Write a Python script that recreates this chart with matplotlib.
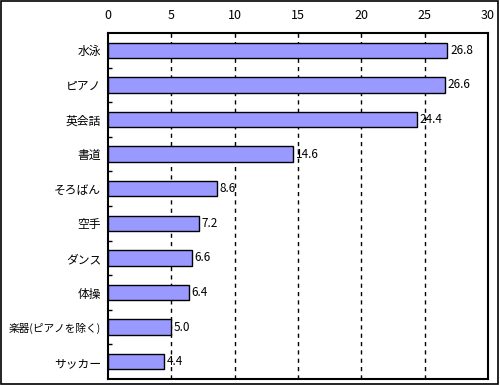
import matplotlib
matplotlib.use("Agg")
import matplotlib.pyplot as plt
from matplotlib.patches import Rectangle

plt.rcParams['font.family'] = ['Noto Sans CJK JP', 'DejaVu Sans']

categories = ["水泳", "ピアノ", "英会話", "書道", "そろばん", "空手", "ダンス", "体操", "楽器(ピアノを除く)", "サッカー"]
values = [26.8, 26.6, 24.4, 14.6, 8.6, 7.2, 6.6, 6.4, 5.0, 4.4]
xticks = [0, 5, 10, 15, 20, 25, 30]

fig = plt.figure(figsize=(5.0, 3.85), dpi=100)
fig.patches.append(Rectangle((0.002, 0.003), 0.994, 0.994, transform=fig.transFigure,
                             fill=False, edgecolor='black', linewidth=1.2))
ax = fig.add_axes([0.216, 0.0156, 0.76, 0.8987])

n = len(categories)
ypos = list(range(n))
ax.barh(ypos, values, height=0.44, color='#9999FF', edgecolor='black', linewidth=1.0, zorder=3)
for y, v in zip(ypos, values):
    ax.text(v + 0.2, y, f"{v:.1f}", va='center', ha='left', fontsize=8.5, zorder=4)

ax.set_xlim(0, 30)
ax.set_ylim(n - 0.5, -0.5)
ax.set_xticks(xticks)
ax.set_xticklabels([str(t) for t in xticks])
ax.xaxis.tick_top()
ax.tick_params(axis='x', length=0, pad=8, labelsize=9)
for t in xticks[1:-1]:
    ax.axvline(t, color='black', linestyle=(0, (3, 3)), linewidth=1.0, zorder=1)

ax.set_yticks(ypos)
ax.set_yticklabels(categories, fontsize=8.5)
for lbl in ax.get_yticklabels():
    if len(lbl.get_text()) > 6:
        lbl.set_fontsize(7.7)
ax.tick_params(axis='y', length=0, pad=5)
ax.set_yticks([i + 0.5 for i in range(n - 1)], minor=True)
ax.tick_params(axis='y', which='minor', direction='in', length=3, width=1.0)

for s in ax.spines.values():
    s.set_linewidth(1.5)

fig.savefig("out.png", dpi=100)
